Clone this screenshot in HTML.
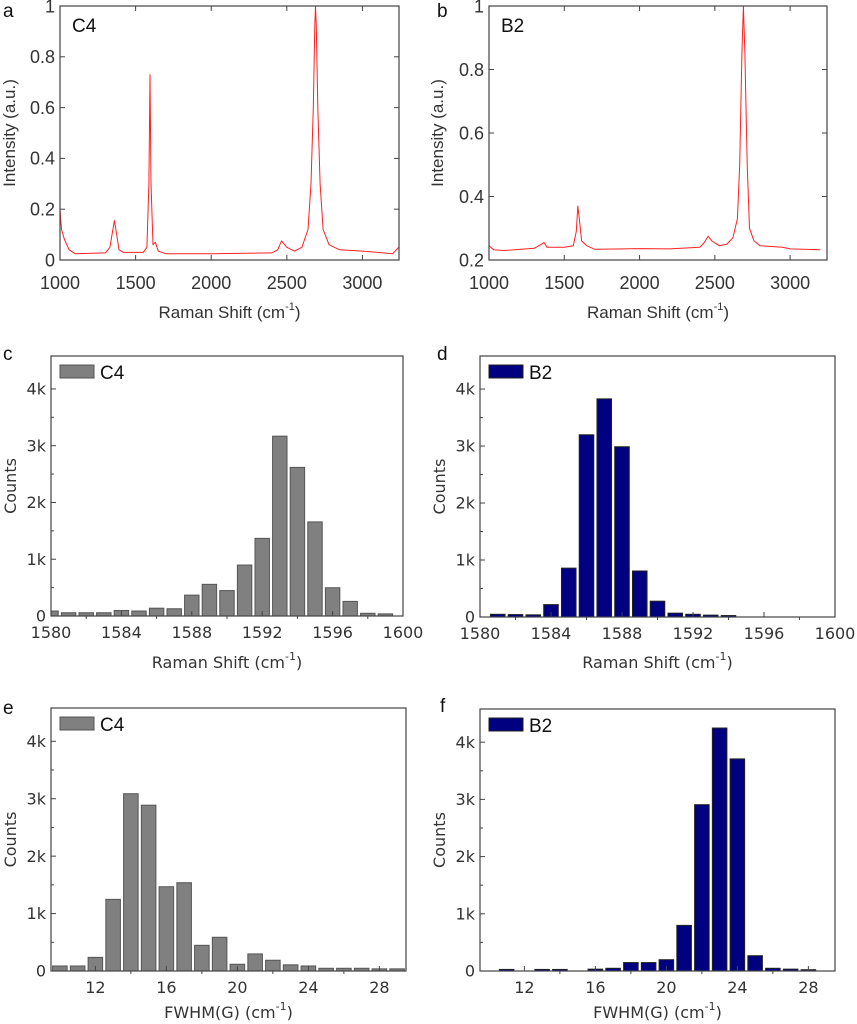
<!DOCTYPE html>
<html><head><meta charset="utf-8"><style>
html,body{margin:0;padding:0;background:#fff;width:857px;height:1024px;overflow:hidden}
svg{display:block}
</style></head><body>
<svg id="fig" width="857" height="1024" xmlns="http://www.w3.org/2000/svg" font-family="'Liberation Sans', sans-serif"></svg>
<script>
// ---- Data ----
const specAX = [1000,1010,1030,1060,1100,1300,1330,1350,1360,1370,1390,1420,1550,1575,1588,1595,1602,1615,1630,1650,1700,2000,2400,2440,2465,2500,2550,2600,2640,2660,2675,2685,2690,2695,2705,2720,2740,2780,2850,3000,3100,3200,3240];
const specAY = [0.20,0.12,0.08,0.04,0.025,0.028,0.05,0.12,0.155,0.12,0.04,0.03,0.03,0.05,0.30,0.73,0.30,0.06,0.07,0.035,0.025,0.025,0.028,0.04,0.075,0.05,0.035,0.05,0.12,0.30,0.60,0.92,1.0,0.92,0.60,0.30,0.12,0.06,0.04,0.035,0.03,0.025,0.05];
const specBX = [1000,1030,1100,1300,1350,1365,1385,1500,1560,1580,1590,1600,1615,1650,1700,1900,2000,2200,2400,2430,2455,2480,2530,2580,2620,2650,2665,2680,2690,2700,2715,2730,2760,2800,2950,3000,3200];
const specBY = [0.245,0.232,0.23,0.237,0.25,0.255,0.24,0.24,0.245,0.29,0.37,0.33,0.26,0.245,0.234,0.235,0.236,0.235,0.24,0.255,0.275,0.26,0.245,0.25,0.27,0.33,0.50,0.85,1.0,0.85,0.50,0.30,0.26,0.245,0.24,0.235,0.232];
const histCX = [1580,1581,1582,1583,1584,1585,1586,1587,1588,1589,1590,1591,1592,1593,1594,1595,1596,1597,1598,1599];
const histCY = [70,40,40,40,80,70,120,110,350,540,430,880,1350,3150,2600,1640,480,240,30,20];
const histDX = [1581,1582,1583,1584,1585,1586,1587,1588,1589,1590,1591,1592,1593,1594];
const histDY = [30,25,20,200,840,3180,3810,2970,790,260,50,30,15,8];
const histEX = [10,11,12,13,14,15,16,17,18,19,20,21,22,23,24,25,26,27,28,29];
const histEY = [70,70,220,1230,3070,2870,1450,1520,430,570,100,280,170,90,70,30,30,30,20,20];
const histFX = [11,13,14,16,17,18,19,20,21,22,23,24,25,26,27,28];
const histFY = [10,10,10,15,30,130,130,180,780,2890,4230,3690,250,30,15,5];
const ticksSpecX = [1000,1500,2000,2500,3000];
const ticksAY = [0,0.2,0.4,0.6,0.8,1];
const ticksAYLabels = ['0','0.2','0.4','0.6','0.8','1'];
const ticksBY = [0.2,0.4,0.6,0.8,1];
const ticksBYLabels = ['0.2','0.4','0.6','0.8','1'];
const ticksShiftX = [1580,1584,1588,1592,1596,1600];
const ticksFwhmX = [12,16,20,24,28];
const ticksCountY = [0,1000,2000,3000,4000];
const ticksCountLabels = ['0','1k','2k','3k','4k'];

const svg = document.getElementById('fig');
const NS = 'http://www.w3.org/2000/svg';
function el(tag, attrs, parent){const e=document.createElementNS(NS,tag);for(const k in attrs)e.setAttribute(k,attrs[k]);(parent||svg).appendChild(e);return e;}
function txt(s, attrs, parent){const e=el('text',attrs,parent);e.textContent=s;return e;}
function lin(d0,d1,r0,r1){return v=>r0+(v-d0)*(r1-r0)/(d1-d0);}

function panel(cfg){
  const g = el('g',{});
  
  
  const sx = lin(cfg.xd[0],cfg.xd[1],cfg.L,cfg.R);
  const sy = lin(cfg.yd[0],cfg.yd[1],cfg.B,cfg.T);
  const clipId = 'clip-'+cfg.name;
  const cp = el('clipPath',{id:clipId},g); el('rect',{x:cfg.L,y:cfg.T,width:cfg.R-cfg.L,height:cfg.B-cfg.T},cp);
  const plot = el('g',{'clip-path':'url(#'+clipId+')'},g);
  if(cfg.line){
    let d='';
    cfg.line[0].forEach((x,i)=>{d+=(i?'L':'M')+sx(x).toFixed(1)+' '+sy(cfg.line[1][i]).toFixed(1);});
    const p = el('path',{d:d,fill:'none',stroke:'#ff2020','stroke-width':1,'stroke-linejoin':'round'},plot);
    
    
  }
  if(cfg.bars){
    const bw = (sx(1)-sx(0))*0.82;
    cfg.bars[0].forEach((x,i)=>{
      const y0=sy(0), y1=sy(cfg.bars[1][i]);
      const r = el('rect',{x:sx(x)-bw/2,y:Math.min(y0,y1)-1,width:bw,height:Math.abs(y0-y1)+1,fill:cfg.color,stroke:cfg.stroke,'stroke-width':1},plot);
      
      
    });
  }
  const frame = el('rect',{x:cfg.L,y:cfg.T,width:cfg.R-cfg.L,height:cfg.B-cfg.T,fill:'none',stroke:'#444','stroke-width':1.2},g);
  
  
  cfg.xt.forEach(v=>{
    const x=sx(v);
    el('line',{x1:x,x2:x,y1:cfg.B,y2:cfg.B-5,stroke:'#444'},g);
    if(cfg.line) el('line',{x1:x,x2:x,y1:cfg.T,y2:cfg.T+5,stroke:'#444'},g);
    const t = txt(String(v),{x:x,y:cfg.B+cfg.xlOff,'text-anchor':'middle','font-size':cfg.fs,fill:'#333','font-family':cfg.tf},g);
    
    
  });
  cfg.yt.forEach((v,i)=>{
    const y=sy(v);
    el('line',{x1:cfg.L,x2:cfg.L+5,y1:y,y2:y,stroke:'#444'},g);
    if(cfg.line) el('line',{x1:cfg.R,x2:cfg.R-5,y1:y,y2:y,stroke:'#444'},g);
    const t = txt(cfg.ytl[i],{x:cfg.L-5,y:y+cfg.fs*0.35,'text-anchor':'end','font-size':cfg.fs,fill:'#333','font-family':cfg.tf},g);
    
    
  });
  if(cfg.bars){
    for(let i=0;i<cfg.yt.length-1;i++){const y=sy((cfg.yt[i]+cfg.yt[i+1])/2);el('line',{x1:cfg.L,x2:cfg.L+3,y1:y,y2:y,stroke:'#444'},g);}
    for(let i=0;i<cfg.xt.length-1;i++){const x=sx((cfg.xt[i]+cfg.xt[i+1])/2);el('line',{x1:x,x2:x,y1:cfg.B,y2:cfg.B+3,stroke:'#444'},g);}
  }
  const xtt = txt('',{x:(cfg.L+cfg.R)/2,y:cfg.xtY,'text-anchor':'middle','font-size':cfg.tfs,fill:'#333','font-family':cfg.tf},g);
  
  
  xtt.innerHTML = cfg.xtitle+' (cm<tspan dy="-8" font-size="11">-1</tspan><tspan dy="8">)</tspan>';
  const cy=(cfg.T+cfg.B)/2;
  const ytt = txt(cfg.ytitle,{x:cfg.ytX,y:cy,transform:'rotate(-90 '+cfg.ytX+' '+cy+')','text-anchor':'middle','font-size':cfg.tfs,fill:'#333','font-family':cfg.tf},g);
  
  
  const lt = txt(cfg.letter,{x:cfg.letterX,y:cfg.letterY,'font-size':19,fill:'#111'},g);
  
  
  if(cfg.line){
    const s = txt(cfg.sample,{x:cfg.L+12,y:cfg.T+26,'font-size':19,fill:'#111'},g);
    
    
  } else {
    const lg = el('g',{},g);
    
    
    el('rect',{x:cfg.L+9,y:cfg.T+9,width:34,height:13,fill:cfg.color,stroke:cfg.stroke},lg);
    txt(cfg.sample,{x:cfg.L+49,y:cfg.T+23,'font-size':19,fill:'#111'},lg);
  }
}
const SANS="'Liberation Sans', sans-serif", DV="'DejaVu Sans', sans-serif";
panel({name:'panel-a',letter:'a',letterX:3,letterY:17,sample:'C4',L:60,R:399,T:6,B:260,xd:[1000,3242],yd:[0,1],line:[specAX,specAY],xt:ticksSpecX,yt:ticksAY,ytl:ticksAYLabels,fs:18,tfs:17,tf:SANS,xlOff:29,xtY:318,xtitle:'Raman Shift',ytitle:'Intensity (a.u.)',ytX:15});
panel({name:'panel-b',letter:'b',letterX:437,letterY:17,sample:'B2',L:489,R:827,T:6,B:260,xd:[1000,3245],yd:[0.2,1],line:[specBX,specBY],xt:ticksSpecX,yt:ticksBYLabels.map(Number),ytl:ticksBYLabels,fs:18,tfs:17,tf:SANS,xlOff:29,xtY:318,xtitle:'Raman Shift',ytitle:'Intensity (a.u.)',ytX:443});
panel({name:'panel-c',letter:'c',letterX:3,letterY:360,sample:'C4',L:51,R:403,T:356,B:616,xd:[1580,1600],yd:[0,4580],bars:[histCX,histCY],color:'#808080',stroke:'#555',xt:ticksShiftX,yt:ticksCountY,ytl:ticksCountLabels,fs:16,tfs:16,tf:DV,xlOff:22,xtY:668,xtitle:'Raman Shift',ytitle:'Counts',ytX:16});
panel({name:'panel-d',letter:'d',letterX:437,letterY:360,sample:'B2',L:480,R:835,T:356,B:617,xd:[1580,1600],yd:[0,4580],bars:[histDX,histDY],color:'#000080',stroke:'#222',xt:ticksShiftX,yt:ticksCountY,ytl:ticksCountLabels,fs:16,tfs:16,tf:DV,xlOff:22,xtY:668,xtitle:'Raman Shift',ytitle:'Counts',ytX:445});
panel({name:'panel-e',letter:'e',letterX:3,letterY:714,sample:'C4',L:51,R:406,T:708,B:971,xd:[9.5,29.5],yd:[0,4580],bars:[histEX,histEY],color:'#808080',stroke:'#555',xt:ticksFwhmX,yt:ticksCountY,ytl:ticksCountLabels,fs:16,tfs:16,tf:DV,xlOff:22,xtY:1018,xtitle:'FWHM(G)',ytitle:'Counts',ytX:16});
panel({name:'panel-f',letter:'f',letterX:440,letterY:712,sample:'B2',L:480,R:835,T:709,B:971,xd:[9.5,29.5],yd:[0,4580],bars:[histFX,histFY],color:'#000080',stroke:'#222',xt:ticksFwhmX,yt:ticksCountY,ytl:ticksCountLabels,fs:16,tfs:16,tf:DV,xlOff:22,xtY:1018,xtitle:'FWHM(G)',ytitle:'Counts',ytX:445});
</script>
</body></html>
